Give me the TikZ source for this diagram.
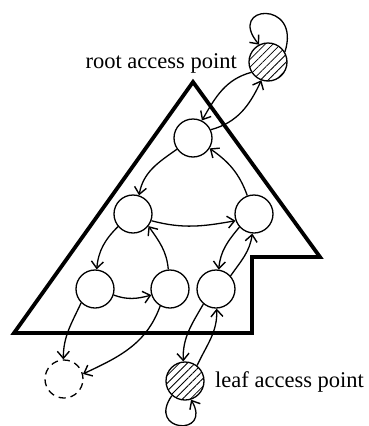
\documentclass[tikz,border=0pt]{standalone}
\usepackage{fontspec}
\setmainfont{Liberation Serif}
\usetikzlibrary{arrows.meta,patterns.meta}
\begin{document}
\begin{tikzpicture}[x=1pt,y=1pt,
  vtx/.style={circle,draw,line width=1.3pt,minimum size=38pt,inner sep=0pt},
  ap/.style={vtx,pattern={Lines[angle=45,distance=5.5pt,line width=0.8pt]}},
  ghost/.style={vtx,dash pattern=on 7pt off 5pt},
  arr/.style={line width=1.3pt,-{Straight Barb[length=7pt,width=12pt,line width=1.4pt]}},
  bound/.style={line width=3.8pt,line join=miter},
  lbl/.style={font=\fontsize{22.5}{27}\selectfont,inner sep=0pt}]
\useasboundingbox (0,0) rectangle (368,-426);
\draw[bound] (193,-82) -- (14,-333) -- (252,-333) -- (252,-257) -- (320,-257) -- cycle;
\node[ap] (R) at (268,-62) {};
\node[vtx] (A) at (193,-138) {};
\node[vtx] (B) at (133,-214) {};
\node[vtx] (C) at (254,-214) {};
\node[vtx] (E) at (95,-289) {};
\node[vtx] (F) at (170,-289) {};
\node[vtx] (D) at (216,-289) {};
\node[ghost] (X) at (64,-379) {};
\node[ap] (L) at (185,-381) {};
\node[lbl,anchor=base east] (rl) at (237,-68) {root access point};
\node[lbl,anchor=base west] (ll) at (215,-387) {leaf access point};
\draw[arr] (R.30) .. controls +(72:56) and +(130:52) .. (R.117);
\draw[arr] (R.212) to[out=195,in=60] (A.63);
\draw[arr] (A.25) to[out=15,in=245] (R.250);
\draw[arr] (A.215) to[out=215,in=80] (B.72);
\draw[arr] (B.-20) to[out=-15,in=190] (C.200);
\draw[arr] (C.110) to[out=110,in=-35] (A.-32);
\draw[arr] (C.222) to[out=230,in=85] (D.82);
\draw[arr] (D.42) to[out=55,in=262] (C.265);
\draw[arr] (E.-18) to[out=-20,in=195] (F.198);
\draw[arr] (F.95) to[out=95,in=-55] (B.-38);
\draw[arr] (B.220) to[out=225,in=85] (E.85);
\draw[arr] (E.225) to[out=245,in=90] (X.92);
\draw[arr] (F.240) to[out=250,in=25] (X.15);
\draw[arr] (D.230) to[out=240,in=92] (L.95);
\draw[arr] (L.52) to[out=65,in=272] (D.272);
\draw[arr] (L.228) .. controls +(235:45) and +(300:43) .. (L.288);
\end{tikzpicture}
\end{document}
